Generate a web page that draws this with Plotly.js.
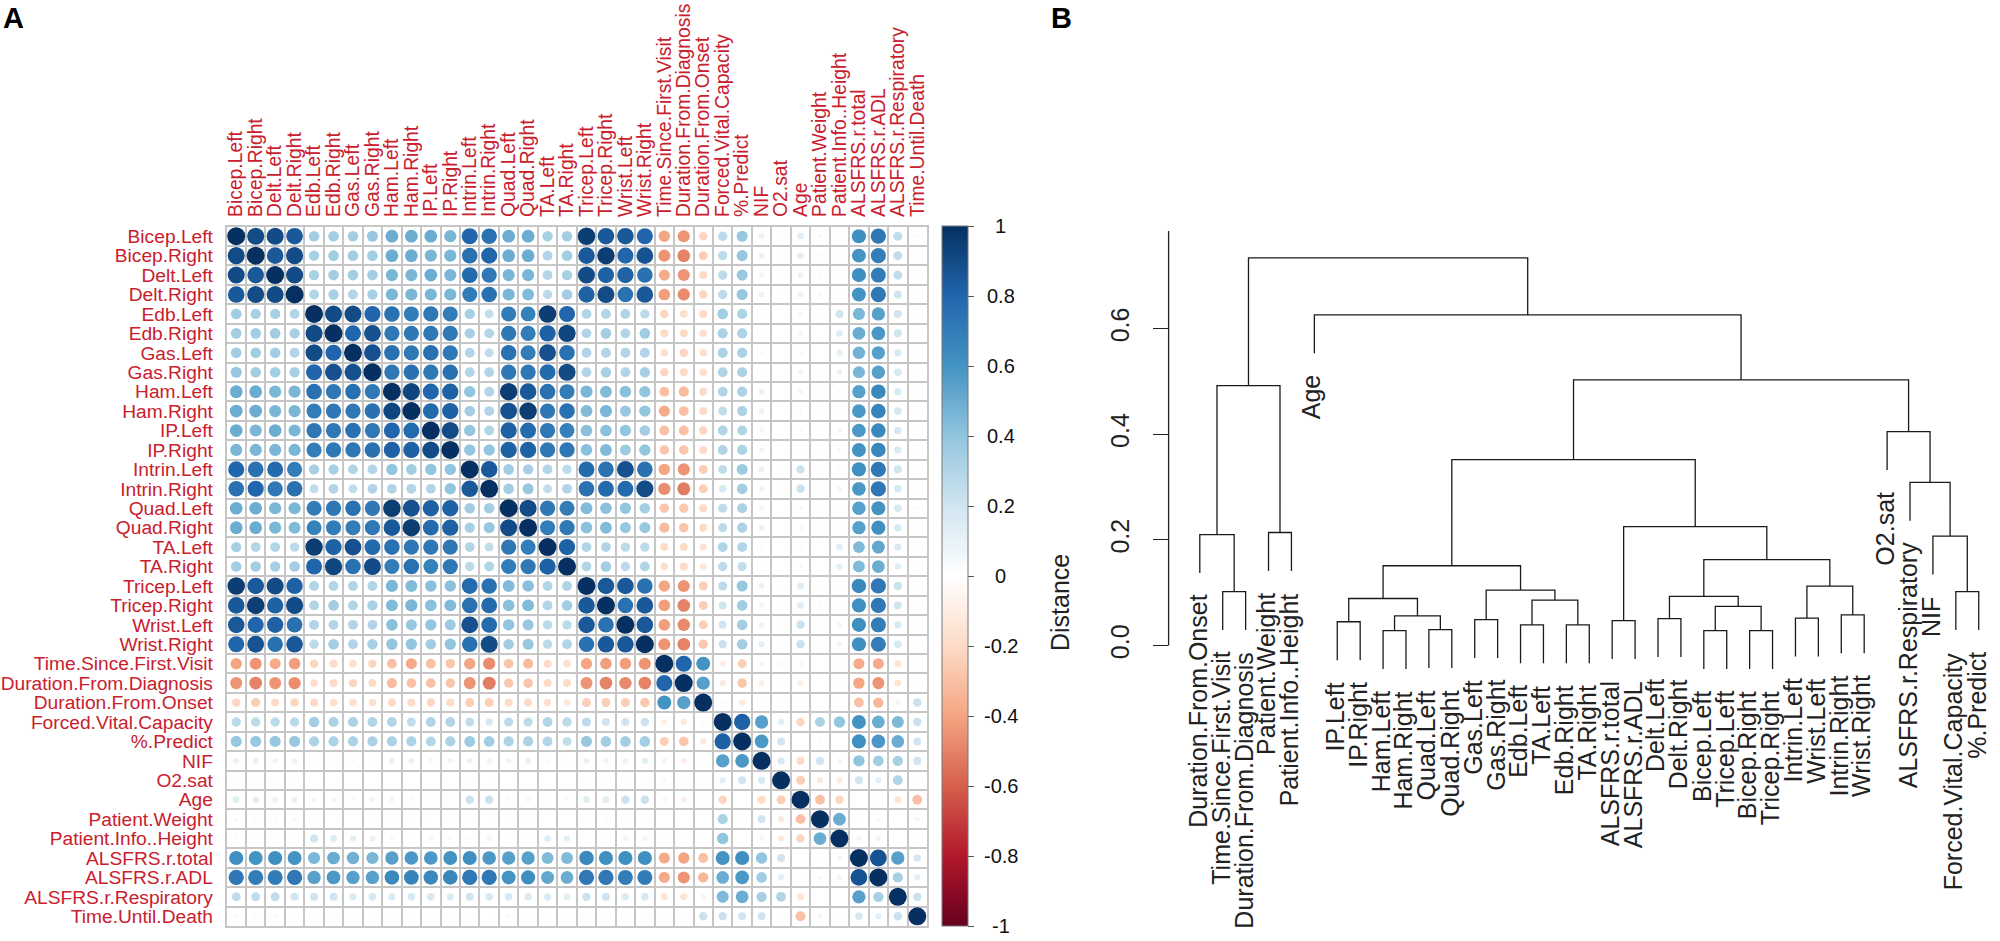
<!DOCTYPE html>
<html><head><meta charset="utf-8">
<script src="https://cdn.plot.ly/plotly-3.0.1.min.js"></script>
<style>html,body{margin:0;padding:0;background:#fff}#c{width:2000px;height:941px}</style>
</head><body><div id="c"></div>
<script>
// ---------- Panel A data ----------
const varNames = ["Bicep.Left","Bicep.Right","Delt.Left","Delt.Right","Edb.Left","Edb.Right","Gas.Left","Gas.Right","Ham.Left","Ham.Right","IP.Left","IP.Right","Intrin.Left","Intrin.Right","Quad.Left","Quad.Right","TA.Left","TA.Right","Tricep.Left","Tricep.Right","Wrist.Left","Wrist.Right","Time.Since.First.Visit","Duration.From.Diagnosis","Duration.From.Onset","Forced.Vital.Capacity","%.Predict","NIF","O2.sat","Age","Patient.Weight","Patient.Info..Height","ALSFRS.r.total","ALSFRS.r.ADL","ALSFRS.r.Respiratory","Time.Until.Death"];
// Upper triangle of the correlation matrix (each row starts at the diagonal)
const corrUpper = [
[1,.9,.9,.85,.35,.35,.35,.38,.5,.5,.5,.46,.8,.75,.5,.5,.33,.35,.95,.85,.85,.8,-.4,-.45,-.22,.27,.38,.1,.03,.14,.05,.03,.62,.72,.25,.04],
[1,.85,.9,.33,.35,.35,.35,.5,.5,.46,.46,.75,.8,.5,.5,.3,.35,.85,.95,.8,.87,-.45,-.5,-.25,.27,.38,.1,.02,.13,.04,.02,.6,.7,.25,.04],
[1,.9,.33,.35,.35,.35,.46,.46,.5,.46,.78,.72,.46,.46,.3,.33,.9,.82,.82,.75,-.38,-.45,-.2,.27,.38,.08,.02,.1,.04,.02,.62,.7,.25,.04],
[1,.3,.33,.3,.33,.46,.46,.46,.46,.7,.75,.46,.44,.27,.35,.82,.9,.75,.85,-.42,-.47,-.22,.27,.38,.1,.02,.1,-.06,.03,.6,.72,.2,.03],
[1,.9,.9,.8,.75,.7,.72,.7,.33,.25,.7,.68,.95,.8,.3,.3,.3,.27,-.22,-.18,-.2,.35,.32,.03,0,.06,.02,.2,.46,.55,.2,.03],
[1,.8,.88,.72,.72,.72,.72,.33,.3,.72,.7,.82,.92,.3,.35,.3,.35,-.2,-.2,-.18,.32,.32,.02,0,.07,0,.15,.5,.58,.2,.02],
[1,.88,.75,.72,.75,.72,.3,.25,.75,.7,.88,.75,.3,.3,.3,.3,-.18,-.22,-.18,.32,.32,.04,0,.05,0,.12,.48,.55,.16,.02],
[1,.72,.75,.72,.75,.3,.3,.72,.72,.78,.9,.3,.33,.3,.33,-.22,-.2,-.18,.3,.32,.03,0,.08,.02,.1,.46,.55,.18,.02],
[1,.92,.8,.82,.4,.3,.95,.85,.75,.7,.46,.44,.42,.4,-.3,-.32,-.2,.3,.32,.1,0,.07,.02,.05,.55,.65,.16,.03],
[1,.78,.82,.35,.3,.88,.95,.72,.75,.44,.46,.38,.4,-.38,-.3,-.2,.25,.32,.1,0,.05,.02,.03,.58,.67,.18,.03],
[1,.9,.4,.3,.82,.78,.72,.68,.42,.42,.4,.35,-.3,-.3,-.22,.3,.3,.07,0,.04,.02,.07,.58,.65,.18,.03],
[1,.4,.4,.82,.82,.72,.72,.42,.44,.37,.4,-.28,-.28,-.2,.3,.32,.08,0,.03,.02,.05,.6,.66,.16,.03],
[1,.85,.35,.33,.3,.27,.78,.75,.88,.75,-.4,-.45,-.25,.25,.37,.1,.03,.22,.02,-.04,.62,.72,.2,.02],
[1,.35,.38,.25,.3,.75,.78,.78,.9,-.47,-.52,-.25,.17,.35,.08,.02,.22,.02,-.08,.58,.72,.18,.02],
[1,.9,.72,.7,.44,.42,.4,.35,-.28,-.27,-.2,.26,.32,.08,0,.05,.02,.02,.55,.6,.18,.04],
[1,.7,.72,.42,.44,.38,.38,-.32,-.28,-.2,.26,.32,.1,0,.06,.02,.03,.55,.62,.17,.03],
[1,.82,.3,.3,.27,.27,-.2,-.2,-.17,.3,.3,.04,0,.04,0,.14,.44,.52,.16,.03],
[1,.3,.35,.27,.3,-.18,-.2,-.14,.27,.25,.03,0,.05,0,.12,.44,.5,.13,.03],
[1,.85,.85,.75,-.4,-.45,-.25,.26,.38,.1,.03,.14,.03,.03,.65,.72,.22,.03],
[1,.75,.85,-.42,-.5,-.25,.2,.35,.08,.03,.14,.04,.03,.62,.72,.2,.03],
[1,.85,-.42,-.48,-.25,.2,.35,.1,.03,.22,.03,-.08,.62,.7,.16,.03],
[1,-.45,-.5,-.27,.22,.35,.12,.02,.22,.03,-.08,.62,.7,.18,.02],
[1,.8,.6,-.1,-.25,-.08,-.05,-.06,0,-.02,-.38,-.38,-.15,.02],
[1,.55,-.12,-.28,-.1,-.02,-.1,0,-.02,-.4,-.45,-.15,.02],
[1,-.04,-.12,-.03,-.03,-.02,0,-.01,-.3,-.33,-.08,.22],
[1,.82,.55,.12,-.22,.32,.4,.6,.5,.45,.22],
[1,.58,.2,0,.03,0,.62,.58,.5,.2],
[1,.17,-.2,.2,.07,.4,.35,.33,.2],
[1,-.25,-.12,-.12,.2,.12,.3,.03],
[1,-.3,-.22,0,.01,-.15,-.3],
[1,.5,.03,.05,0,.06],
[1,.07,.08,0,.03],
[1,.87,.55,.18],
[1,.33,.12],
[1,.22],
[1]
];
const colorbarTicks = [1,.8,.6,.4,.2,0,-.2,-.4,-.6,-.8,-1];
const corrColors = ["#67001F","#B2182B","#D6604D","#F4A582","#FDDBC7","#FFFFFF","#D1E5F0","#92C5DE","#4393C3","#2166AC","#053061"];

// ---------- Panel B data ----------
const leafNames = ["Duration.From.Onset","Time.Since.First.Visit","Duration.From.Diagnosis","Patient.Weight","Patient.Info..Height","Age","IP.Left","IP.Right","Ham.Left","Ham.Right","Quad.Left","Quad.Right","Gas.Left","Gas.Right","Edb.Left","TA.Left","Edb.Right","TA.Right","ALSFRS.r.total","ALSFRS.r.ADL","Delt.Left","Delt.Right","Bicep.Left","Tricep.Left","Bicep.Right","Tricep.Right","Intrin.Left","Wrist.Left","Intrin.Right","Wrist.Right","O2.sat","ALSFRS.r.Respiratory","NIF","Forced.Vital.Capacity","%.Predict"];
// hclust-style merges: "L3" is leaf 3, "M2" is merge number 2 (1-based)
const mergeLeft  = ["L1","L0","L3","M2","L6","L8","L10","M6","M5","L12","L14","L16","M11","M10","M9","L18","L20","L22","L24","M18","M17","L26","L28","M22","M21","M16","M15","L33","L32","L31","L30","M27","L5","M4"];
const mergeRight = ["L2","M1","L4","M3","L7","L9","L11","M7","M8","L13","L15","L17","M12","M13","M14","L19","L21","L23","L25","M19","M20","L27","L29","M23","M24","M25","M26","L34","M28","M29","M30","M31","M32","M33"];
const mergeHeight= [.102,.21,.214,.492,.045,.028,.03,.056,.089,.049,.039,.039,.086,.105,.151,.047,.051,.028,.028,.074,.093,.052,.058,.1125,.1625,.225,.352,.102,.207,.309,.405,.503,.626,.734];
const leafHang = .0727;
const distanceTicks = [0,.2,.4,.6];

// ---------- layout constants (page pixels) ----------
const W=2000,H=941;
const px=x=>x/W, py=y=>1-y/H;
const font="'Liberation Sans',Arial,sans-serif";
const labelRed="#c9202e";
const grid={l:226.5,r:927,t:226.5,b:926};
const cb={l:941.7,w:26.3,t:226,b:926};
const dend={l:1168.6,zeroY:645.5,topY:231,unit:528,first:1199.8,step:22.91};

// ---------- build traces ----------
const xs=[],ys=[],vals=[];
const n=varNames.length;
for(let i=0;i<n;i++){for(let k=0;k<corrUpper[i].length;k++){
  const j=i+k,v=corrUpper[i][k];
  xs.push(j);ys.push(i);vals.push(v);
  if(j!==i){xs.push(i);ys.push(j);vals.push(v);}
}}
const circles={type:'scatter',mode:'markers',x:xs,y:ys,xaxis:'x',yaxis:'y',hoverinfo:'skip',
  marker:{color:vals,cmin:-1,cmax:1,
    colorscale:corrColors.map((c,i)=>[i/(corrColors.length-1),c]),
    size:vals.map(v=>18*Math.sqrt(Math.abs(v))),sizemode:'diameter',line:{width:0},opacity:1,
    colorbar:{x:px(cb.l),xanchor:'left',xpad:0,ypad:0,y:py(cb.b),yanchor:'bottom',
      len:(cb.b-cb.t)/H,lenmode:'fraction',thickness:cb.w,thicknessmode:'pixels',
      outlinecolor:'#777',outlinewidth:1,tickmode:'array',tickvals:colorbarTicks,
      ticks:'outside',ticklen:6,tickwidth:1,tickcolor:'#555',showticklabels:false}}};

// dendrogram
const dx=[],dy=[],pos={};
const leafBottom=leafNames.map(()=>0);
function node(id){
  if(id[0]==='L')return {x:+id.slice(1),h:null,leaf:+id.slice(1)};
  return pos[id];
}
mergeHeight.forEach((h,m)=>{
  const a=node(mergeLeft[m]),b=node(mergeRight[m]);
  const ya=a.h===null?h-leafHang:a.h, yb=b.h===null?h-leafHang:b.h;
  if(a.h===null)leafBottom[a.leaf]=ya;
  if(b.h===null)leafBottom[b.leaf]=yb;
  dx.push(a.x,a.x,b.x,b.x,null);dy.push(ya,h,h,yb,null);
  pos['M'+(m+1)]={x:(a.x+b.x)/2,h:h};
});
const dendro={type:'scatter',mode:'lines',x:dx,y:dy,xaxis:'x2',yaxis:'y2',hoverinfo:'skip',
  line:{color:'#1a1a1a',width:1.3,shape:'linear'},connectgaps:false,cliponaxis:false,showlegend:false};

// annotations
const ann=[];
const txt=(text,x,y,size,o)=>Object.assign({text,x:px(x),y:py(y),xref:'paper',yref:'paper',showarrow:false,
  font:{family:font,size,color:'#111'},xanchor:'center',yanchor:'middle'},o||{});
ann.push(txt('<b>A</b>',13,18,29,{font:{family:font,size:29,color:'#000'}}));
ann.push(txt('<b>B</b>',1061,18,29,{font:{family:font,size:29,color:'#000'}}));
colorbarTicks.forEach(v=>{
  const y=cb.b-(v+1)/2*(cb.b-cb.t);
  ann.push(txt(String(v),1001,y,20));
});
ann.push(txt('Distance',1060,603,25,{textangle:-90,font:{family:font,size:25,color:'#222'}}));
leafNames.forEach((name,i)=>{
  ann.push({text:name,x:i,y:leafBottom[i],xref:'x2',yref:'y2',showarrow:false,textangle:-90,
    xanchor:'center',yanchor:'top',xshift:-2.5,yshift:-20,font:{family:font,size:25,color:'#222'}});
});

const idx=varNames.map((_,i)=>i);
const yMin=-.06, yMax=(dend.zeroY-dend.topY)/dend.unit;
const layout={width:W,height:H,margin:{l:0,r:0,t:0,b:0,pad:0},paper_bgcolor:'#fff',plot_bgcolor:'#fff',showlegend:false,
  font:{family:font},
  xaxis:{domain:[px(grid.l),px(grid.r)],range:[-.5,n-.5],side:'top',anchor:'y',tickmode:'array',tickvals:idx,ticktext:varNames,
    tickangle:-90,tickfont:{family:font,size:19.3,color:labelRed},showgrid:false,zeroline:false,ticks:'',ticklabelstandoff:4,
    showline:true,mirror:true,linecolor:'#c6c6c6',linewidth:1.5,automargin:false,
    minor:{tick0:-.5,dtick:1,showgrid:true,gridcolor:'#c6c6c6',gridwidth:1.5,ticks:''}},
  yaxis:{domain:[py(grid.b),py(grid.t)],range:[n-.5,-.5],anchor:'x',tickmode:'array',tickvals:idx,ticktext:varNames,
    tickfont:{family:font,size:19.2,color:labelRed},showgrid:false,zeroline:false,ticks:'',ticklabelstandoff:8,
    showline:true,mirror:true,linecolor:'#c6c6c6',linewidth:1.5,automargin:false,
    minor:{tick0:-.5,dtick:1,showgrid:true,gridcolor:'#c6c6c6',gridwidth:1.5,ticks:''}},
  xaxis2:{domain:[px(dend.l),1],range:[(dend.l-dend.first)/dend.step,(W-dend.first)/dend.step],anchor:'y2',visible:false},
  yaxis2:{domain:[py(dend.zeroY-yMin*dend.unit),py(dend.topY)],range:[yMin,yMax],anchor:'x2',tickmode:'array',
    tickvals:distanceTicks,ticktext:['0.0','0.2','0.4','0.6'],tickangle:-90,tickfont:{family:font,size:25,color:'#222'},
    ticks:'outside',ticklen:14.6,tickwidth:1.2,tickcolor:'#222',showgrid:false,zeroline:false,showline:false,ticklabelstandoff:14},
  shapes:[{type:'line',xref:'paper',yref:'y2',x0:px(dend.l),x1:px(dend.l),y0:0,y1:yMax,line:{color:'#222',width:1.3}}],
  annotations:ann};
Plotly.newPlot('c',[circles,dendro],layout,{displayModeBar:false,responsive:false});
</script></body></html>
